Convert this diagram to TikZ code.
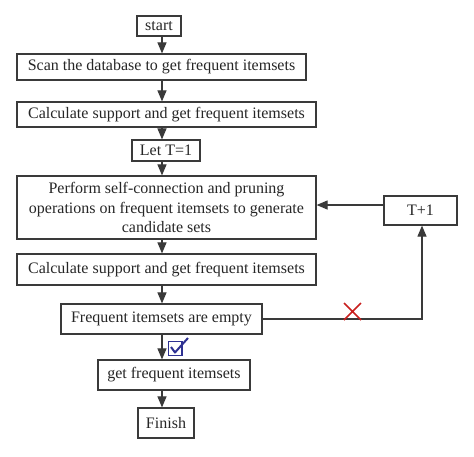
\documentclass[tikz,border=0pt]{standalone}
\usepackage{fontspec}
\setmainfont{Liberation Serif}
\usetikzlibrary{arrows.meta}
\definecolor{ln}{HTML}{3A3A3A}
\definecolor{chk}{HTML}{2E3192}
\definecolor{xred}{HTML}{C8201E}
\tikzset{
  box/.style={draw=ln, line width=1.2pt, inner sep=0pt, align=center, font=\fontsize{16}{19.5}\selectfont, text=black!85},
  arr/.style={draw=ln, line width=1.1pt, -{Triangle[length=11pt,width=9pt]}},
  ln/.style={draw=ln, line width=1.1pt}
}
\begin{document}
\begin{tikzpicture}[x=1pt,y=-1pt]
\useasboundingbox (0,0) rectangle (474,456);
\node[box, minimum width=44pt, minimum height=20pt] (start) at (159,26) {start};
\node[box, minimum width=289pt, minimum height=26pt] (scan) at (161.5,67) {Scan the database to get frequent itemsets};
\node[box, minimum width=299pt, minimum height=25pt] (calc1) at (166.5,114.5) {Calculate support and get frequent itemsets};
\node[box, minimum width=68pt, minimum height=21pt] (let) at (166,150.5) {Let T=1};
\node[box, minimum width=299pt, minimum height=63pt] (perf) at (166.5,207.5) {Perform self-connection and pruning\\operations on frequent itemsets to generate\\candidate sets};
\node[box, minimum width=73pt, minimum height=29pt] (tp) at (420.5,210.5) {T+1};
\node[box, minimum width=299pt, minimum height=31pt] (calc2) at (166.5,269.5) {Calculate support and get frequent itemsets};
\node[box, minimum width=201pt, minimum height=30pt] (empty) at (161.5,319) {Frequent itemsets are empty};
\node[box, minimum width=152pt, minimum height=30pt] (get) at (174,375) {get frequent itemsets};
\node[box, minimum width=56pt, minimum height=30pt] (fin) at (166,423) {Finish};
\coordinate (col) at (162,0);
\coordinate (rc) at (422,0);
\draw[arr] (col |- start.south) -- (col |- scan.north);
\draw[arr] (col |- scan.south) -- (col |- calc1.north);
\draw[arr] (col |- calc1.south) -- (col |- let.north);
\draw[arr] (col |- let.south) -- (col |- perf.north);
\draw[arr] (col |- perf.south) -- (col |- calc2.north);
\draw[arr] (col |- calc2.south) -- (col |- empty.north);
\draw[arr] (col |- empty.south) -- (col |- get.north);
\draw[arr] (col |- get.south) -- (col |- fin.north);
\draw[arr] (tp.west |- 0,205) -- (perf.east |- 0,205);
\draw[arr] (empty.east) -- (rc |- empty.east) -- (rc |- tp.south);
% red cross
\draw[xred, line width=1.5pt] (344,303) -- (361,320) (361,303) -- (344,320);
% check box
\draw[chk, line width=1.8pt] (168.5,341.5) rectangle (182,355.5);
\draw[chk, line width=2pt, line join=round] (171,347) -- (175,352.5) -- (188,338);
\end{tikzpicture}
\end{document}
